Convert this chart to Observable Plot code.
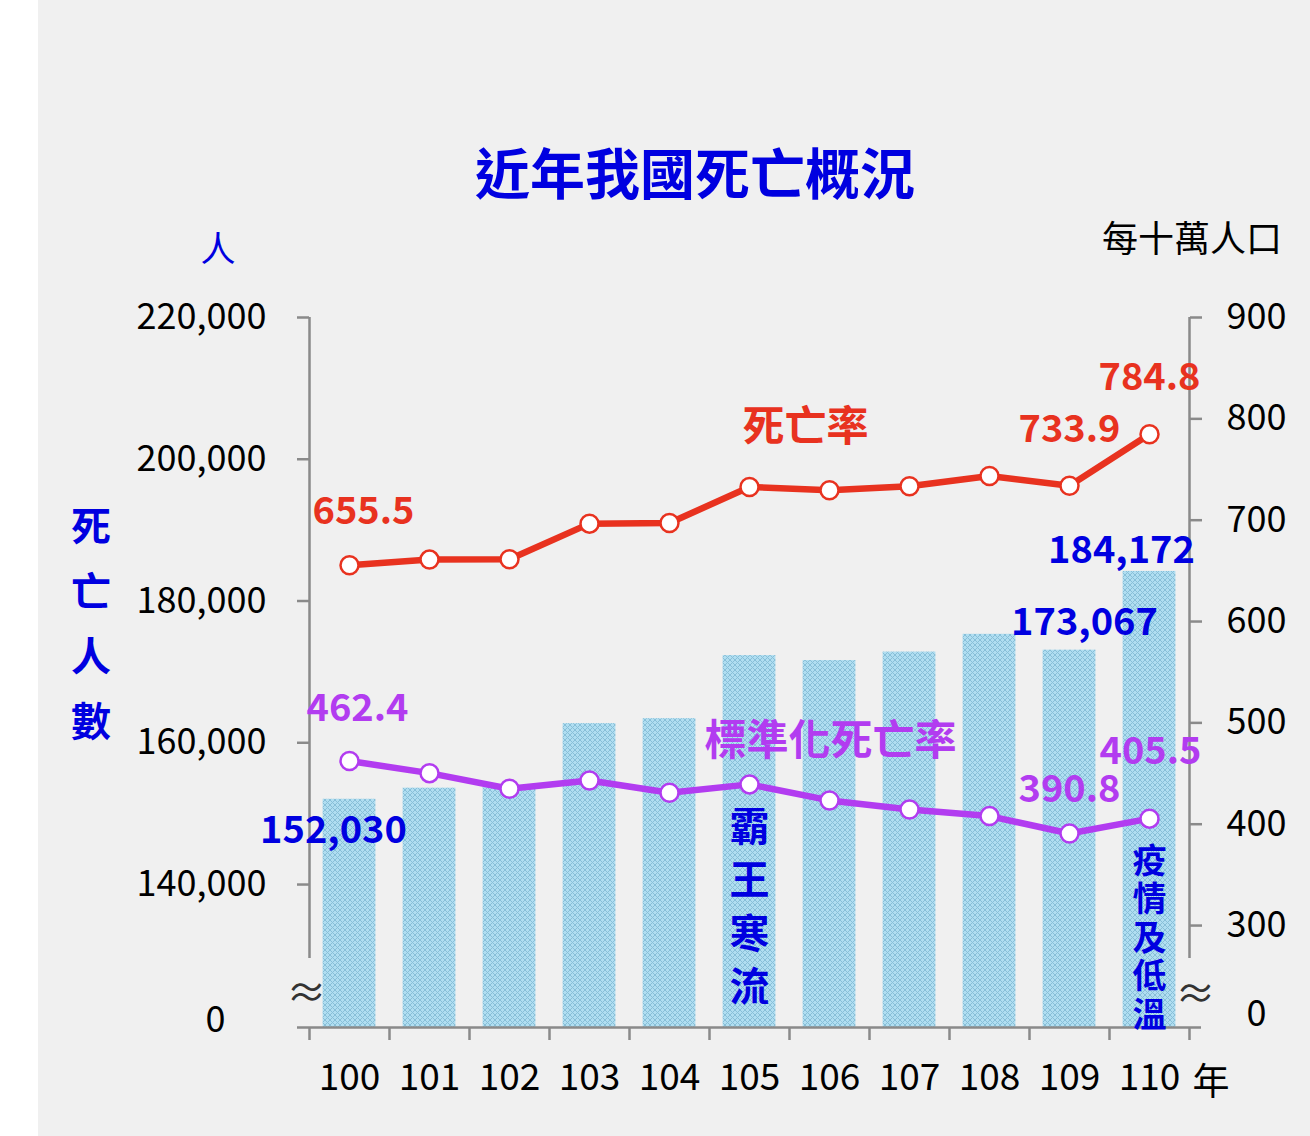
<!DOCTYPE html>
<html>
<head>
<meta charset="utf-8">
<script src="https://cdn.jsdelivr.net/npm/d3@7"></script>
<script src="https://cdn.jsdelivr.net/npm/@observablehq/plot@0.6"></script>
<style>
  html, body { margin: 0; padding: 0; background: #ffffff; }
  #wrap { position: relative; width: 1310px; height: 1136px; overflow: hidden; background: #ffffff;
          font-family: "Noto Sans CJK TC", "Noto Sans CJK SC", sans-serif; }
  #panel { position: absolute; left: 38px; top: 0; width: 1272px; height: 1136px; background: #f0f0f0; }
  #chart { position: absolute; left: 0; top: 0; }
  .lbl { position: absolute; transform: translate(-50%, -50%); line-height: 1; white-space: nowrap; }
</style>
</head>
<body>
<div id="wrap">
  <div id="panel"></div>
  <div id="chart"></div>
  <div class="lbl" style="left:695px;top:170px;font-size:55px;font-weight:700;color:#0000e0;">近年我國死亡概況</div>
  <div class="lbl" style="left:218px;top:246px;font-size:35px;color:#0000e0;">人</div>
  <div class="lbl" style="left:1192px;top:236px;font-size:36px;color:#000;">每十萬人口</div>
  <div class="lbl" style="left:91px;top:622px;font-size:40px;font-weight:700;color:#0000e0;line-height:65px;text-align:center;">死<br>亡<br>人<br>數</div>
  <div class="lbl" style="left:1211px;top:1079px;font-size:37px;color:#000;">年</div>
</div>
<script>
// ---- data ----
const years = [100, 101, 102, 103, 104, 105, 106, 107, 108, 109, 110];
const deaths = [152030, 153600, 153700, 162700, 163400, 172300, 171600, 172800, 175300, 173067, 184172];
const crudeRate = [655.5, 661.1, 661.4, 696.6, 697.2, 732.8, 729.5, 733.5, 743.6, 733.9, 784.8];
const stdRate = [462.4, 450.4, 435.0, 443.2, 431.1, 439.3, 423.5, 414.6, 408.0, 390.8, 405.5];
const leftTicks = [140000, 160000, 180000, 200000, 220000];
const rightTicks = [300, 400, 500, 600, 700, 800, 900];

// ---- broken dual axis set-up ----
const Y_TOP = 220000;        // top of left axis
const Y_BOTTOM = 119830;     // baseline of the broken axis (shown as 0)
const Y_BREAK = 129570;      // where the axis lines stop before the break
const RATE_TOP = 900;        // right axis top, aligned with Y_TOP
const PEOPLE_PER_RATE = 142.98;
const toPeople = r => Y_TOP - (RATE_TOP - r) * PEOPLE_PER_RATE;
const toRate = p => RATE_TOP - (Y_TOP - p) / PEOPLE_PER_RATE;

const rows = years.map((year, i) => ({year, deaths: deaths[i], crude: crudeRate[i], std: stdRate[i]}));
const boundaries = [...years.map(y => y - 0.5), years[years.length - 1] + 0.5];
const X0 = boundaries[0], X1 = boundaries[boundaries.length - 1];

const RED = "#e8321f";
const PURPLE = "#b23cf0";
const BLUE = "#0000e0";
const AXIS = "#8a8a8a";
const font = '"Noto Sans CJK TC", "Noto Sans CJK SC", sans-serif';
const VAL_SIZE = 38;
const TICK_SIZE = 36;

const at = (i) => [rows[i]];

const svg = Plot.plot({
  width: 1310,
  height: 1136,
  marginLeft: 309,
  marginRight: 121,
  marginTop: 317,
  marginBottom: 109,
  style: {background: "transparent", fontFamily: font, overflow: "visible"},
  x: {domain: [X0, X1], label: null},
  y: {domain: [Y_BOTTOM, Y_TOP], label: null},
  marks: [
    // bars
    Plot.rectY(rows, {x1: d => d.year - 0.33, x2: d => d.year + 0.33, y1: Y_BOTTOM, y2: "deaths", fill: "url(#hatch)"}),
    // axis lines
    Plot.ruleX([X0, X1], {x: d => d, y1: Y_BREAK, y2: Y_TOP, stroke: AXIS, strokeWidth: 2.5}),
    Plot.ruleY([Y_BOTTOM], {y: d => d, x1: X0, x2: X1, insetLeft: -12, insetRight: -12, stroke: AXIS, strokeWidth: 2.5}),
    // x axis: ticks at band boundaries + labels
    Plot.axisX(boundaries, {anchor: "bottom", label: null, tickSize: 13, tickFormat: () => "", stroke: AXIS, strokeWidth: 2.5}),
    Plot.axisX(years, {anchor: "bottom", label: null, tickSize: 0, tickPadding: 36, tickFormat: d => String(d), fontSize: 37, fill: "#000"}),
    // left axis
    Plot.axisY(leftTicks, {anchor: "left", label: null, tickSize: 12, tickPadding: 31, tickFormat: d3.format(","), fontSize: TICK_SIZE, stroke: AXIS, strokeWidth: 2.5, fill: "#000"}),
    // right axis (rate, per 100,000)
    Plot.axisY(rightTicks.map(toPeople), {anchor: "right", label: null, tickSize: 12, tickPadding: 25, tickFormat: d => String(Math.round(toRate(d))), fontSize: TICK_SIZE, stroke: AXIS, strokeWidth: 2.5, fill: "#000"}),
    // break marks and zero labels
    Plot.text(["0"], {x: [X0], y: [Y_BOTTOM], dx: -94, dy: -7, fontSize: TICK_SIZE, fill: "#000"}),
    Plot.text(["0"], {x: [X1], y: [Y_BOTTOM], dx: 67, dy: -13, fontSize: TICK_SIZE, fill: "#000"}),
    Plot.text(["≈"], {x: [X0], y: [Y_BOTTOM], dx: -3, dy: -33, fontSize: 40, fill: "#333"}),
    Plot.text(["≈"], {x: [X1], y: [Y_BOTTOM], dx: 6, dy: -32, fontSize: 40, fill: "#333"}),
    // crude death rate
    Plot.line(rows, {x: "year", y: d => toPeople(d.crude), stroke: RED, strokeWidth: 6.5}),
    Plot.dot(rows, {x: "year", y: d => toPeople(d.crude), r: 9, fill: "white", stroke: RED, strokeWidth: 2.5}),
    // standardized death rate
    Plot.line(rows, {x: "year", y: d => toPeople(d.std), stroke: PURPLE, strokeWidth: 6.5}),
    Plot.dot(rows, {x: "year", y: d => toPeople(d.std), r: 9, fill: "white", stroke: PURPLE, strokeWidth: 2.5}),
    // value labels - crude
    Plot.text(at(0), {x: "year", y: d => toPeople(d.crude), text: d => d.crude.toFixed(1), dx: 14, dy: -53, fontSize: VAL_SIZE, fontWeight: 700, fill: RED}),
    Plot.text(at(9), {x: "year", y: d => toPeople(d.crude), text: d => d.crude.toFixed(1), dx: 0, dy: -56, fontSize: VAL_SIZE, fontWeight: 700, fill: RED}),
    Plot.text(at(10), {x: "year", y: d => toPeople(d.crude), text: d => d.crude.toFixed(1), dx: 0, dy: -56, fontSize: VAL_SIZE, fontWeight: 700, fill: RED}),
    // value labels - standardized
    Plot.text(at(0), {x: "year", y: d => toPeople(d.std), text: d => d.std.toFixed(1), dx: 8, dy: -52, fontSize: VAL_SIZE, fontWeight: 700, fill: PURPLE}),
    Plot.text(at(9), {x: "year", y: d => toPeople(d.std), text: d => d.std.toFixed(1), dx: 0, dy: -44, fontSize: VAL_SIZE, fontWeight: 700, fill: PURPLE}),
    Plot.text(at(10), {x: "year", y: d => toPeople(d.std), text: d => d.std.toFixed(1), dx: 1, dy: -67, fontSize: VAL_SIZE, fontWeight: 700, fill: PURPLE}),
    // value labels - deaths
    Plot.text(at(0), {x: "year", y: "deaths", text: d => d3.format(",")(d.deaths), dx: -16, dy: 32, fontSize: VAL_SIZE, fontWeight: 700, fill: BLUE}),
    Plot.text(at(9), {x: "year", y: "deaths", text: d => d3.format(",")(d.deaths), dx: 15, dy: -27, fontSize: VAL_SIZE, fontWeight: 700, fill: BLUE}),
    Plot.text(at(10), {x: "year", y: "deaths", text: d => d3.format(",")(d.deaths), dx: -28, dy: -21, fontSize: VAL_SIZE, fontWeight: 700, fill: BLUE}),
    // series annotations
    Plot.text(at(5), {x: "year", y: d => toPeople(d.crude), text: () => "死亡率", dx: 56, dy: -59, fontSize: 42, fontWeight: 700, fill: RED}),
    Plot.text(at(5), {x: "year", y: d => toPeople(d.std), text: () => "標準化死亡率", dx: 81, dy: -43, fontSize: 42, fontWeight: 700, fill: PURPLE}),
    // event annotations (vertical)
    Plot.text(at(5), {x: "year", y: d => toPeople(d.std), text: () => "霸\n王\n寒\n流", lineAnchor: "top", lineHeight: 1.33, dy: 19, fontSize: 40, fontWeight: 700, fill: BLUE}),
    Plot.text(at(10), {x: "year", y: d => toPeople(d.std), text: () => "疫\n情\n及\n低\n溫", lineAnchor: "top", lineHeight: 1.13, dy: 27, fontSize: 34, fontWeight: 700, fill: BLUE})
  ]
});

svg.insertAdjacentHTML("afterbegin",
  `<defs>
     <pattern id="hatch" width="5" height="5" patternUnits="userSpaceOnUse">
       <rect width="5" height="5" fill="#b0def1"></rect>
       <path d="M0,0L5,5M5,0L0,5" stroke="#88bfd8" stroke-width="1"></path>
     </pattern>
   </defs>`);

document.getElementById("chart").appendChild(svg);
</script>
</body>
</html>
